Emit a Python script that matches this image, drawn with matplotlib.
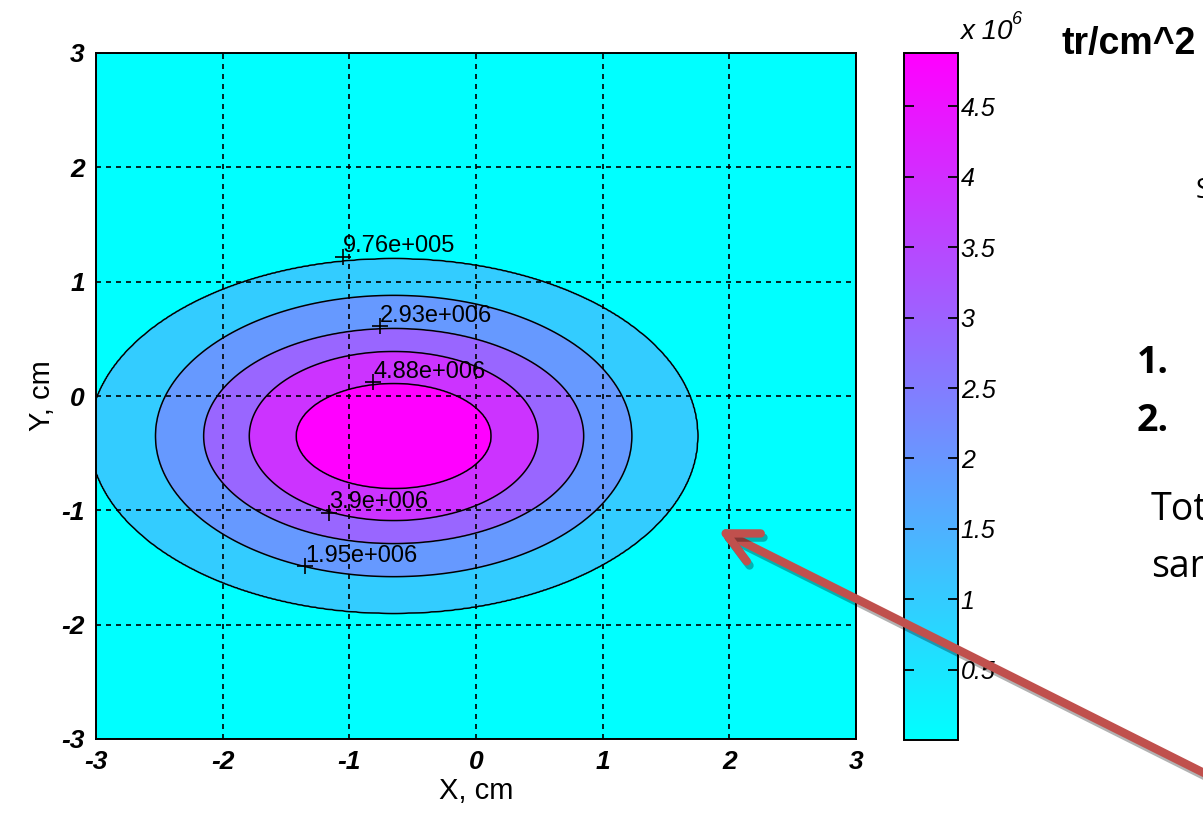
import numpy as np
import matplotlib
matplotlib.use('Agg')
import matplotlib.pyplot as plt
from matplotlib import cm, patheffects
from matplotlib.colors import Normalize
from matplotlib.patches import FancyArrowPatch

# contour levels, their labels and the ellipses they trace (cm)
levels = [0.976e6, 1.95e6, 2.93e6, 3.9e6, 4.88e6]
level_labels = ['9.76e+005', '1.95e+006', '2.93e+006', '3.9e+006', '4.88e+006']
semi_x = [2.40, 1.88, 1.50, 1.14, 0.77]
semi_y = [1.55, 1.23, 0.94, 0.74, 0.46]
center_x, center_y = -0.65, -0.35
peak = 5.86e6

# where the clabel "+" marks sit
label_x = [-1.05, -1.35, -0.76, -1.16, -0.81]
label_y = [1.22, -1.49, 0.61, -1.02, 0.12]

ticks = [-3, -2, -1, 0, 1, 2, 3]
cbar_ticks = [0.5, 1, 1.5, 2, 2.5, 3, 3.5, 4, 4.5]
cbar_max = 4.88

matlab_font = ['Liberation Sans Narrow', 'Liberation Sans', 'DejaVu Sans']

# build the fluence map so that each level falls on its measured ellipse
g = np.linspace(-3, 3, 600)
X, Y = np.meshgrid(g, g)
dx = X - center_x
dy = Y - center_y
r = np.hypot(dx, dy)
th = np.arctan2(dy, dx)
radii = [1 / np.sqrt((np.cos(th) / a) ** 2 + (np.sin(th) / b) ** 2)
         for a, b in zip(semi_x, semi_y)]
knot_r = [np.zeros_like(r)] + radii[::-1] + [radii[0] * 1.8]
knot_v = [peak] + levels[::-1] + [0.0]
Z = np.zeros_like(r)
for i in range(len(knot_r) - 1):
    r0, r1 = knot_r[i], knot_r[i + 1]
    m = (r >= r0) & (r < r1)
    Z[m] = knot_v[i] + (r[m] - r0[m]) / (r1[m] - r0[m]) * (knot_v[i + 1] - knot_v[i])

fig = plt.figure(figsize=(12.03, 8.17), dpi=100)
ax = fig.add_axes([96 / 1203, 1 - 739 / 817, 760 / 1203, 686 / 817])

band_colors = [cm.cool(k / 5) for k in range(6)]
ax.contourf(X, Y, Z, levels=[-1] + levels + [peak * 2], colors=band_colors)
ax.contour(X, Y, Z, levels=levels, colors='k', linewidths=1.1)

for xl, yl, t in zip(label_x, label_y, level_labels):
    ax.plot(xl, yl, '+', color='k', ms=12, mew=1.2)
    ax.annotate(t, (xl, yl), xytext=(0, 3), textcoords='offset points',
                fontsize=17, family=matlab_font, va='baseline', ha='left')

ax.set_xlim(-3, 3)
ax.set_ylim(-3, 3)
ax.set_xticks(ticks)
ax.set_yticks(ticks)
ax.set_xticklabels([str(t) for t in ticks])
ax.set_yticklabels([str(t) for t in ticks])
for lbl in ax.get_xticklabels() + ax.get_yticklabels():
    lbl.set_fontstyle('italic')
    lbl.set_fontweight('bold')
    lbl.set_family(matlab_font)
    lbl.set_fontsize(19)
ax.tick_params(direction='in', length=0, pad=8)
ax.grid(True, color='k', linestyle=(0, (3, 3)), linewidth=1.2)
for s in ax.spines.values():
    s.set_linewidth(1.4)
ax.set_xlabel('X, cm', fontsize=21, family=matlab_font, labelpad=2)
ax.set_ylabel('Y, cm', fontsize=21, family=matlab_font, labelpad=4)

# colour bar
cax = fig.add_axes([904 / 1203, 1 - 740 / 817, 54 / 1203, 687 / 817])
sm = cm.ScalarMappable(norm=Normalize(0, cbar_max), cmap='cool')
cb = fig.colorbar(sm, cax=cax, ticks=cbar_ticks)
cb.ax.set_yticklabels(['%g' % v for v in cbar_ticks])
cax.tick_params(direction='in', left=True, right=True, length=7, width=1.3, pad=2)
for lbl in cax.get_yticklabels():
    lbl.set_fontstyle('italic')
    lbl.set_family(matlab_font)
    lbl.set_fontsize(18)
cb.outline.set_linewidth(1.4)

fig.text(960 / 1203, 1 - 39 / 817, 'x 10', fontsize=20, style='italic',
         family=matlab_font)
fig.text(1012 / 1203, 1 - 24 / 817, '6', fontsize=13, style='italic',
         family=matlab_font)
fig.text(1062 / 1203, 1 - 54 / 817, 'tr/cm^2', fontsize=27, weight='bold',
         family=['Liberation Sans', 'DejaVu Sans'])

# slide text cut off by the right edge
side_font = ['Open Sans', 'DejaVu Sans']
fig.text(1196 / 1203, 1 - 198 / 817, 'S', fontsize=20, family=side_font)
fig.text(1137 / 1203, 1 - 373 / 817, '1.', fontsize=27, weight='bold', family=side_font)
fig.text(1137 / 1203, 1 - 431 / 817, '2.', fontsize=27, weight='bold', family=side_font)
fig.text(1151 / 1203, 1 - 520 / 817, 'Tot', fontsize=27, family=side_font)
fig.text(1151 / 1203, 1 - 577 / 817, 'sam', fontsize=27, family=side_font)

# red arrow pointing at the chart
arrow = FancyArrowPatch((1250 / 1203, 1 - 796 / 817), (715 / 1203, 1 - 528 / 817),
                        transform=fig.transFigure,
                        arrowstyle='->,head_length=0.9,head_width=0.45',
                        mutation_scale=25, color='#C0504D', linewidth=6,
                        capstyle='round', joinstyle='round')
arrow.set_path_effects([patheffects.SimpleLineShadow(offset=(2, -3), shadow_color='k', alpha=0.3),
                        patheffects.Normal()])
fig.add_artist(arrow)

fig.savefig('out.png', dpi=100)
